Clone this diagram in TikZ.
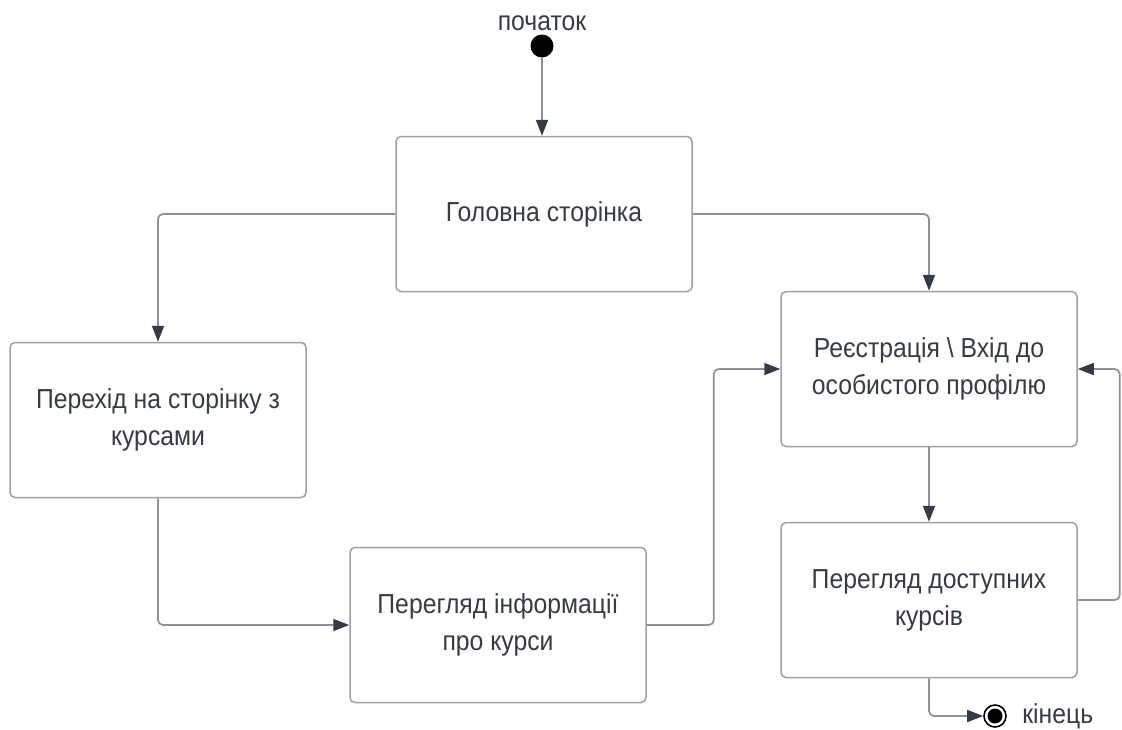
\documentclass[tikz,border=0pt]{standalone}
\usepackage{fontspec}
\setmainfont[FakeStretch=0.9]{Liberation Sans}
\usepackage{tikz}
\usetikzlibrary{arrows.meta}
\usetikzlibrary{positioning}
\definecolor{textgray}{HTML}{363b44}
\definecolor{boxgray}{HTML}{9da1a7}
\definecolor{linegray}{HTML}{8d9299}
\definecolor{tipgray}{HTML}{353b44}

\begin{document}
\begin{tikzpicture}[x=1pt,y=-1pt,
  stanbox/.style={draw=boxgray, line width=1.5pt, rounded corners=5pt, fill=white,
    minimum width=296pt, minimum height=155pt, align=center, text=textgray,
    font=\fontsize{27.5}{37}\selectfont},
  flow/.style={draw=linegray, line width=1.7pt, rounded corners=5pt,
    -{Triangle[length=16pt,width=12pt,color=tipgray]}},
  caption/.style={text=textgray, font=\fontsize{27.5}{30}\selectfont}]
\useasboundingbox (0,0) rectangle (1122,729);
% start and end
\node[circle, fill=black, inner sep=0pt, minimum size=23pt] (start) at (542,46) {};
\node[caption, above=0pt of start] (startlbl) {початок};
% states
\node[stanbox] (home) at (544,214) {Головна сторінка};
\node[stanbox] (kursy) at (158,420) {Перехід на сторінку з\\курсами};
\node[stanbox] (info) at (498,625) {Перегляд інформації\\про курси};
\node[stanbox] (reg) at (929,369) {Реєстрація \textbackslash{} Вхід до\\особистого профілю};
\node[stanbox] (dostup) at (929,600) {Перегляд доступних\\курсів};
\node[circle, draw=black, line width=1.6pt, inner sep=0pt, minimum size=22pt,
  path picture={\fill[black] (path picture bounding box.center) circle (7.5);}] (kinets) at (995,716) {};
\node[caption, right=12pt of kinets] (kinetslbl) {кінець};
% transitions
\draw[flow] (start) -- (start |- home.north);
\draw[flow] (home.west) -| (kursy.north);
\draw[flow] (home.east) -| (reg.north);
\draw[flow] (kursy.south) |- (info.west);
\draw[flow] (info.east) -- ++(67,0) |- (reg.west);
\draw[flow] (reg.south) -- (dostup.north);
\draw[flow] (dostup.east) -- ++(42,0) |- (reg.east);
\draw[flow] (dostup.south) |- (kinets.west);
\end{tikzpicture}
\end{document}
